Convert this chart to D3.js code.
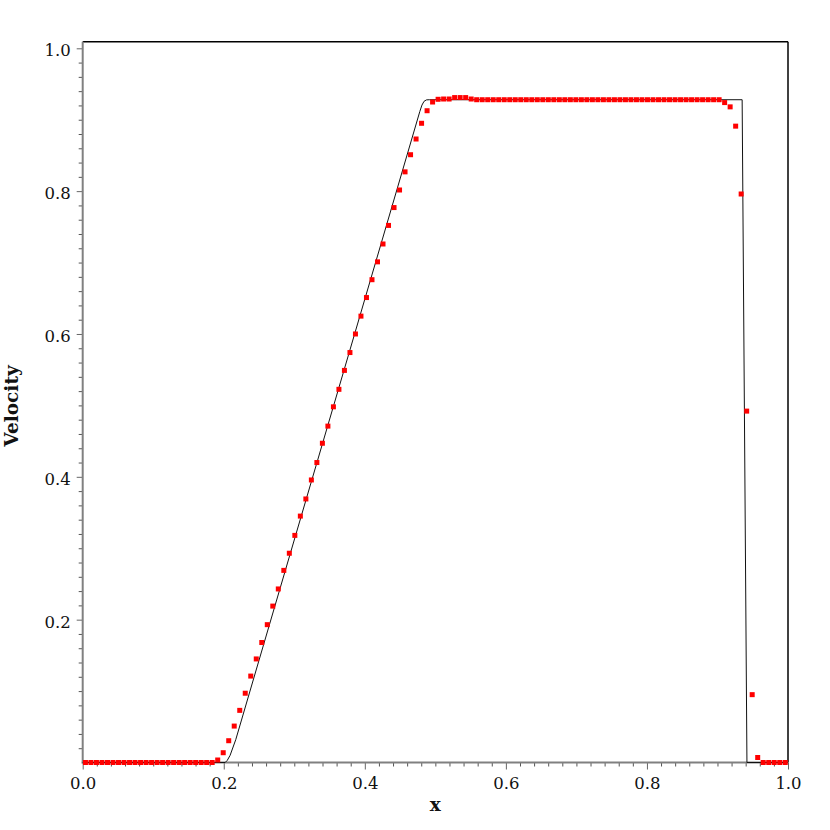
<!DOCTYPE html>
<html>
<head>
<meta charset="utf-8">
<script src="https://cdn.jsdelivr.net/npm/d3@7"></script>
<style>
  html, body { margin: 0; padding: 0; background: #fff; }
  svg { display: block; }
</style>
</head>
<body>
<svg id="chart" width="830" height="830"></svg>
<script>
// ---- data ----
// exact solution (line)
const exactX = [0, 0.202, 0.205, 0.209, 0.217, 0.478, 0.481, 0.484, 0.4875, 0.492, 0.935, 0.9418, 1.0];
const exactV = [0, 0, 0.003, 0.010, 0.032, 0.9116, 0.9205, 0.9258, 0.9278, 0.928, 0.928, 0, 0];

// numerical solution (red squares), 128 cells, values at cell centres
const numX = [
  0.00391,0.01172,0.01953,0.02734,0.03516,0.04297,0.05078,0.05859,0.06641,0.07422,
  0.08203,0.08984,0.09766,0.10547,0.11328,0.12109,0.12891,0.13672,0.14453,0.15234,
  0.16016,0.16797,0.17578,0.18359,0.19141,0.19922,0.20703,0.21484,0.22266,0.23047,
  0.23828,0.24609,0.25391,0.26172,0.26953,0.27734,0.28516,0.29297,0.30078,0.30859,
  0.31641,0.32422,0.33203,0.33984,0.34766,0.35547,0.36328,0.37109,0.37891,0.38672,
  0.39453,0.40234,0.41016,0.41797,0.42578,0.43359,0.44141,0.44922,0.45703,0.46484,
  0.47266,0.48047,0.48828,0.49609,0.50391,0.51172,0.51953,0.52734,0.53516,0.54297,
  0.55078,0.55859,0.56641,0.57422,0.58203,0.58984,0.59766,0.60547,0.61328,0.62109,
  0.62891,0.63672,0.64453,0.65234,0.66016,0.66797,0.67578,0.68359,0.69141,0.69922,
  0.70703,0.71484,0.72266,0.73047,0.73828,0.74609,0.75391,0.76172,0.76953,0.77734,
  0.78516,0.79297,0.80078,0.80859,0.81641,0.82422,0.83203,0.83984,0.84766,0.85547,
  0.86328,0.87109,0.87891,0.88672,0.89453,0.90234,0.91016,0.91797,0.92578,0.93359,
  0.94141,0.94922,0.95703,0.96484,0.97266,0.98047,0.98828,0.99609
];
const numV = [
  0,0,0,0,0,0,0,0,0,0,
  0,0,0,0,0,0,0,0,0,0,
  0,0,0,0,0.0035,0.0137,0.0305,0.051,0.073,0.097,
  0.121,0.145,0.168,0.193,0.219,0.243,0.269,0.293,0.318,0.345,
  0.369,0.3956,0.420,0.447,0.471,0.498,0.5225,0.549,0.574,0.600,
  0.625,0.651,0.676,0.701,0.726,0.752,0.777,0.8016,0.827,0.851,
  0.873,0.895,0.9126,0.9248,0.9286,0.929,0.929,0.931,0.931,0.931,
  0.929,0.928,0.928,0.928,0.928,0.928,0.928,0.928,0.928,0.928,
  0.928,0.928,0.928,0.928,0.928,0.928,0.928,0.928,0.928,0.928,
  0.928,0.928,0.928,0.928,0.928,0.928,0.928,0.928,0.928,0.928,
  0.928,0.928,0.928,0.928,0.928,0.928,0.928,0.928,0.928,0.928,
  0.928,0.928,0.928,0.928,0.928,0.928,0.924,0.918,0.891,0.796,
  0.492,0.095,0.007,0,0,0,0,0
];

const xMajor = [0, 0.2, 0.4, 0.6, 0.8, 1.0];
const yMajor = [0.2, 0.4, 0.6, 0.8, 1.0];
const xLabel = "x";
const yLabel = "Velocity";

// ---- layout ----
const svg = d3.select("#chart");
const left = 82.7, right = 788, bottom = 762.5;
const x = d3.scaleLinear().domain([0, 1]).range([left, right]);
const y = d3.scaleLinear().domain([0, 1]).range([bottom, 48.3]);
const yTop = 1.009;
const font = "'DejaVu Serif', serif";

// minor tick values every 0.02
const minor = d3.range(0, 51).map(i => +(i * 0.02).toFixed(2)).filter(v => Math.abs(v * 5 - Math.round(v * 5)) > 1e-9);

// frame: top and right borders
svg.append("line").attr("x1", left).attr("x2", right).attr("y1", y(yTop)).attr("y2", y(yTop))
  .attr("stroke", "#000").attr("stroke-width", 1.5);
svg.append("line").attr("x1", right).attr("x2", right).attr("y1", y(yTop)).attr("y2", bottom)
  .attr("stroke", "#000").attr("stroke-width", 1.5);

// x axis
const gx = svg.append("g").attr("transform", `translate(0,${bottom})`);
gx.append("g").call(d3.axisBottom(x).tickValues(minor).tickSize(4).tickFormat(""))
  .call(g => g.select(".domain").remove())
  .call(g => g.selectAll(".tick line").attr("stroke", "#555").attr("stroke-width", 1));
gx.append("g").call(d3.axisBottom(x).tickValues(xMajor).tickSize(7).tickPadding(8).tickFormat(d3.format(".1f")))
  .call(g => g.select(".domain").remove())
  .call(g => g.selectAll(".tick line").attr("stroke", "#666").attr("stroke-width", 1))
  .call(g => g.selectAll(".tick text").attr("font-family", font).attr("font-size", "16.5px").attr("fill", "#111"));
gx.append("line").attr("x1", left - 1).attr("x2", right).attr("y1", 0).attr("y2", 0)
  .attr("stroke", "#808080").attr("stroke-width", 2);

// y axis
const gy = svg.append("g").attr("transform", `translate(${left},0)`);
gy.append("g").call(d3.axisLeft(y).tickValues(minor).tickSize(4).tickFormat(""))
  .call(g => g.select(".domain").remove())
  .call(g => g.selectAll(".tick line").attr("stroke", "#555").attr("stroke-width", 1));
gy.append("g").call(d3.axisLeft(y).tickValues(yMajor).tickSize(6).tickPadding(6).tickFormat(d3.format(".1f")))
  .call(g => g.select(".domain").remove())
  .call(g => g.selectAll(".tick line").attr("stroke", "#666").attr("stroke-width", 1))
  .call(g => g.selectAll(".tick text").attr("font-family", font).attr("font-size", "16.5px").attr("fill", "#111").attr("dy", "0.45em"));
gy.append("line").attr("x1", 0).attr("x2", 0).attr("y1", y(yTop)).attr("y2", bottom + 1)
  .attr("stroke", "#808080").attr("stroke-width", 2);

// exact solution line
const exactData = exactX.map((d, i) => [d, exactV[i]]);
svg.append("path")
  .datum(exactData)
  .attr("d", d3.line().x(d => x(d[0])).y(d => y(d[1])))
  .attr("fill", "none").attr("stroke", "#111").attr("stroke-width", 1);

// numerical points
const numData = numX.map((d, i) => [d, numV[i]]);
svg.append("g").selectAll("rect").data(numData).join("rect")
  .attr("x", d => x(d[0]) - 2.5).attr("y", d => y(d[1]) - 2.5)
  .attr("width", 5).attr("height", 5)
  .attr("fill", "#ff0000");

// axis titles
svg.append("text").attr("x", (left + right) / 2).attr("y", 811)
  .attr("text-anchor", "middle").attr("font-family", font).attr("font-weight", "bold")
  .attr("font-size", "18.5px").attr("fill", "#111").text(xLabel);
svg.append("text")
  .attr("transform", `translate(18,406) rotate(-90)`)
  .attr("text-anchor", "middle").attr("font-family", font).attr("font-weight", "bold")
  .attr("font-size", "18.5px").attr("fill", "#111").text(yLabel);
</script>
</body>
</html>
